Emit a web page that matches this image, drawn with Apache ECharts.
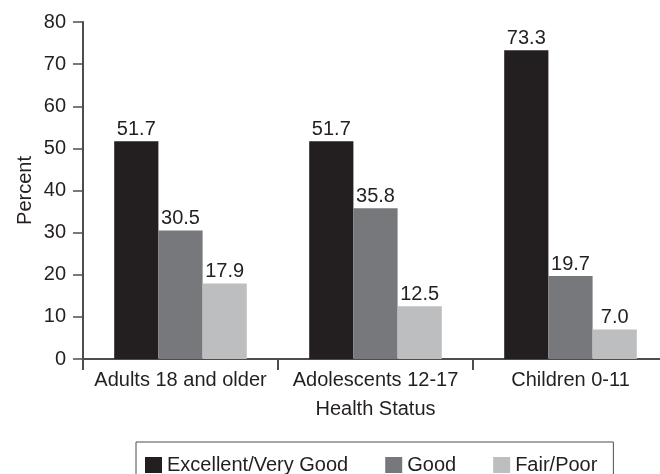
<!DOCTYPE html>
<html>
<head>
<meta charset="utf-8">
<script src="https://cdn.jsdelivr.net/npm/echarts@6/dist/echarts.min.js"></script>
<style>html,body{margin:0;padding:0;background:#fff;}#c{width:660px;height:474px;}</style>
</head>
<body>
<div id="c"></div>
<script>
const categories = ['Adults 18 and older', 'Adolescents 12-17', 'Children 0-11'];
const seriesNames = ['Excellent/Very Good', 'Good', 'Fair/Poor'];
const excellent = [51.7, 51.7, 73.3];
const good = [30.5, 35.8, 19.7];
const fairPoor = [17.9, 12.5, 7.0];
const yTicks = { min: 0, max: 80, interval: 10 };

const FONT = "'Liberation Sans', Arial, sans-serif";
const colors = ['#231f20', '#77787b', '#bcbec0'];
const axisColor = '#4d4d4f';
const textColor = '#231f20';

const chart = echarts.init(document.getElementById('c'));
const mk = (name, data, color) => ({
  name, type: 'bar', data, barGap: '0%', barCategoryGap: '32%',
  itemStyle: { color },
  label: { show: true, position: 'top', distance: 2, color: textColor,
    fontFamily: FONT, fontSize: 20, formatter: p => p.value.toFixed(1) }
});
chart.setOption({
  animation: false,
  textStyle: { fontFamily: FONT },
  grid: { left: 83, width: 585, top: 22, bottom: 115, containLabel: false, outerBoundsMode: 'none' },
  legend: {
    left: 136, top: 442, itemWidth: 17, itemHeight: 16, itemGap: 37,
    padding: [13, 16, 10, 9], borderColor: axisColor, borderWidth: 1,
    icon: 'rect',
    textStyle: { fontFamily: FONT, fontSize: 20, color: textColor },
    data: seriesNames
  },
  xAxis: {
    type: 'category', data: categories,
    name: 'Health Status', nameLocation: 'middle', nameGap: 40, nameMoveOverlap: false,
    nameTextStyle: { fontFamily: FONT, fontSize: 20, color: textColor },
    axisLine: { lineStyle: { color: axisColor, width: 2 } },
    axisTick: { show: true, interval: 0, length: 11, alignWithLabel: false, lineStyle: { color: axisColor, width: 2 } },
    axisLabel: { interval: 0, margin: 11, fontFamily: FONT, fontSize: 20, color: textColor }
  },
  yAxis: {
    type: 'value', min: yTicks.min, max: yTicks.max, interval: yTicks.interval,
    name: 'Percent', nameLocation: 'middle', nameGap: 48, nameMoveOverlap: false,
    nameTextStyle: { fontFamily: FONT, fontSize: 20, color: textColor },
    axisLine: { show: true, lineStyle: { color: axisColor, width: 2 } },
    axisTick: { show: true, length: 10, lineStyle: { color: axisColor, width: 1.5 } },
    splitLine: { show: false },
    axisLabel: { margin: 17, fontFamily: FONT, fontSize: 20, color: textColor }
  },
  series: [mk(seriesNames[0], excellent, colors[0]), mk(seriesNames[1], good, colors[1]), mk(seriesNames[2], fairPoor, colors[2])]
});
</script>
</body>
</html>
